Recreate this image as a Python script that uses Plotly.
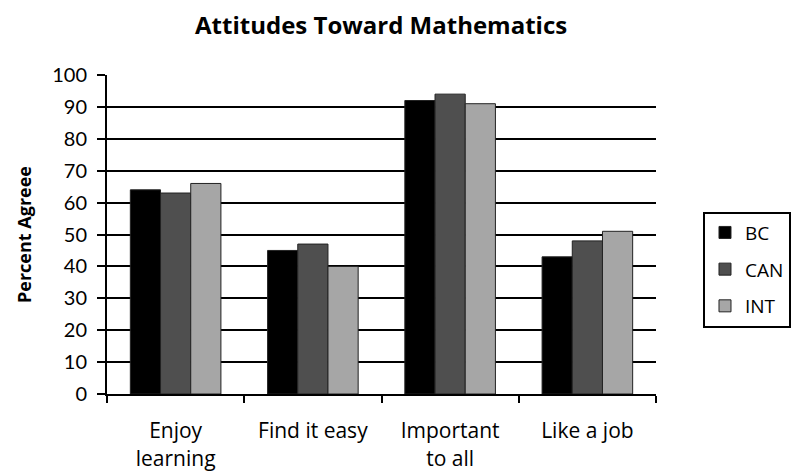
import plotly.graph_objects as go

categories = ["Enjoy<br>learning", "Find it easy", "Important<br>to all", "Like a job"]
series_names = ["BC", "CAN", "INT"]
bc_values = [64, 45, 92, 43]
can_values = [63, 47, 94, 48]
int_values = [66, 40, 91, 51]
y_ticks = [0, 10, 20, 30, 40, 50, 60, 70, 80, 90, 100]

colors = ["#000000", "#4f4f4f", "#a6a6a6"]
values = [bc_values, can_values, int_values]

fig = go.Figure()
for name, vals, c in zip(series_names, values, colors):
    fig.add_trace(go.Bar(
        x=categories, y=vals, name=name, legendgroup=name,
        marker=dict(color=c, line=dict(color="#222222", width=1)),
    ))

fig.update_layout(
    width=799, height=473,
    margin=dict(l=99, r=151, t=67, b=87),
    paper_bgcolor="white", plot_bgcolor="white",
    barmode="group", bargap=0.34, bargroupgap=0,
    title=dict(text="<b>Attitudes Toward Mathematics</b>", xref="container", x=0.467,
               xanchor="center", yref="container", y=0.962, yanchor="middle",
               font=dict(family="Open Sans", size=24, color="black")),
    font=dict(family="Lato", size=16, color="black"),
    legend=dict(x=1.0856, xanchor="left", y=0.39, yanchor="middle",
                bordercolor="black", borderwidth=2,
                font=dict(family="Open Sans", size=19, color="black"),
                tracegroupgap=9),
    xaxis=dict(showline=True, linecolor="black", linewidth=2, automargin=False,
               ticks="outside", tickson="boundaries", ticklen=7, tickcolor="black",
               tickwidth=1.5, ticklabelstandoff=17,
               tickfont=dict(family="Open Sans", size=21, color="black")),
    yaxis=dict(range=[0, 100], tickvals=y_ticks, showline=True, linecolor="black",
               linewidth=2, ticks="outside", ticklen=8, tickcolor="black",
               tickwidth=1.5, showgrid=True, gridcolor="black", gridwidth=1.5,
               zeroline=False, automargin=False, ticklabelstandoff=6,
               tickfont=dict(family="Lato", size=20, color="black"),
               title=dict(text="<b>Percent Agreee</b>", standoff=16,
                          font=dict(family="Open Sans", size=18, color="black"))),
)

fig.write_html("out.html")
